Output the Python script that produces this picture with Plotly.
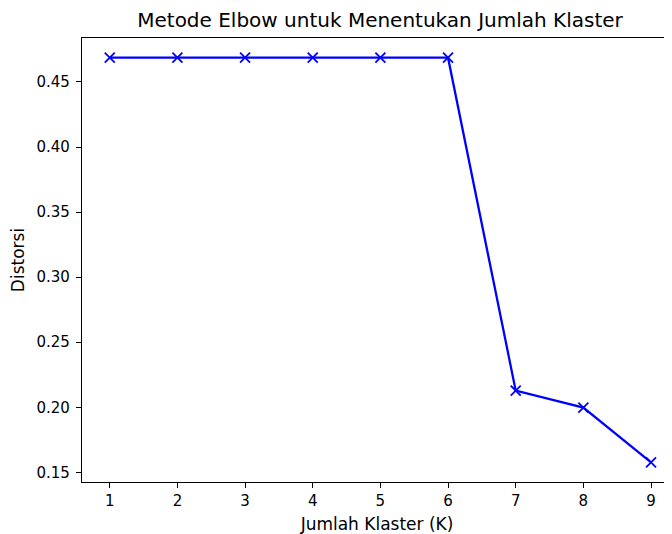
import plotly.graph_objects as go

k_values = [1, 2, 3, 4, 5, 6, 7, 8, 9]
distortion = [0.4687, 0.4687, 0.4687, 0.4687, 0.4687, 0.4687, 0.2128, 0.1998, 0.1577]
x_ticks = [1, 2, 3, 4, 5, 6, 7, 8, 9]
y_ticks = [0.15, 0.20, 0.25, 0.30, 0.35, 0.40, 0.45]
y_tick_text = ["0.15", "0.20", "0.25", "0.30", "0.35", "0.40", "0.45"]

fig = go.Figure()
fig.add_trace(go.Scatter(
    x=k_values, y=distortion, mode="lines+markers",
    line=dict(color="blue", width=2.3),
    marker=dict(symbol="x-thin", size=10, color="blue", line=dict(color="blue", width=1.8)),
    showlegend=False, cliponaxis=False,
))

# The page body has an 8px default margin, so the figure is sized/offset to compensate.
W, H = 664, 526
font = "DejaVu Sans, sans-serif"
fig.update_layout(
    width=W, height=H,
    margin=dict(l=74, r=0, t=30, b=52, autoexpand=False),
    plot_bgcolor="white", paper_bgcolor="white",
    font=dict(family=font, size=15, color="black"),
    title=dict(text="Metode Elbow untuk Menentukan Jumlah Klaster",
               x=372 / W, xanchor="center", y=1 - 12 / H, yanchor="middle",
               font=dict(size=20, family=font, color="black")),
    xaxis=dict(
        range=[0.59, 9.31], tickvals=x_ticks, ticktext=[str(v) for v in x_ticks],
        showgrid=False, zeroline=False, showline=True, linecolor="black", linewidth=1.2,
        mirror=True, ticks="outside", ticklen=5, tickwidth=1.2, tickcolor="black",
        automargin=False,
        title=dict(text="Jumlah Klaster (K)", standoff=9, font=dict(size=17)),
    ),
    yaxis=dict(
        range=[0.1426, 0.4838], tickvals=y_ticks, ticktext=y_tick_text,
        showgrid=False, zeroline=False, showline=True, linecolor="black", linewidth=1.2,
        ticks="outside", ticklen=5, tickwidth=1.2, tickcolor="black",
        automargin=False, ticklabelstandoff=3,
        title=dict(text="Distorsi", standoff=11, font=dict(size=17)),
    ),
)

fig.write_html("out.html")
